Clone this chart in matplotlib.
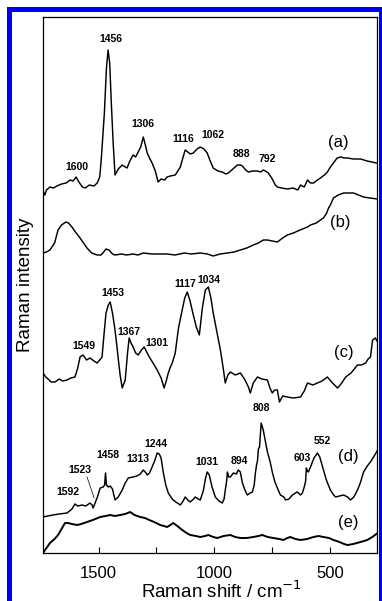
import matplotlib
matplotlib.use("Agg")
import matplotlib.pyplot as plt
from matplotlib.patches import Rectangle

plt.rcParams['font.family'] = ['Liberation Sans', 'DejaVu Sans']

# ---- data (Raman shift in cm-1, intensity in arbitrary stacked units) ----
wa = [1740, 1732, 1725, 1710, 1695, 1680, 1660, 1640, 1623, 1610, 1597, 1585, 1570, 1558, 1540, 1520, 1506, 1495,
      1488, 1475, 1466, 1459, 1452, 1445, 1437, 1429, 1415, 1398, 1385, 1377, 1365, 1351, 1340, 1329, 1318,
      1307, 1298, 1290, 1280, 1269, 1255, 1243, 1230, 1215, 1204, 1190, 1169, 1158, 1147, 1135, 1126,
      1115, 1104, 1091, 1075, 1061, 1045, 1031, 1018, 1005, 985, 966, 950, 940, 920, 901, 888, 879, 865, 853,
      835, 814, 800, 789, 780, 767, 750, 737, 728, 710, 685, 660, 640, 628, 612, 598, 585, 572, 555, 542,
      525, 512, 499, 486, 470, 455, 440, 425, 400, 369, 340, 320, 300]
ia = [362, 358, 363, 366, 365, 367, 369, 370, 373, 372, 376, 371, 366, 365, 368, 367, 370, 376,
      395, 440, 485, 503, 490, 450, 410, 378, 384, 388, 386, 385, 392, 398, 396, 401, 406,
      416, 408, 400, 395, 390, 382, 371, 374, 373, 376, 377, 378, 382, 386, 396, 403,
      401, 399, 400, 404, 406, 404, 400, 392, 385, 382, 381, 379, 380, 384, 388, 388, 387, 383, 381,
      382, 382, 381, 383, 382, 380, 374, 368, 366, 365, 364, 365, 363, 368, 366, 373, 370, 370, 373, 375,
      378, 381, 386, 390, 395, 396, 395, 395, 394, 394, 392, 391, 390]

wb = [1740, 1725, 1710, 1690, 1675, 1660, 1641, 1630, 1615, 1600, 1580, 1565, 1550, 1530, 1506, 1490,
      1478, 1468, 1455, 1440, 1429, 1400, 1380, 1351, 1330, 1307, 1270, 1240, 1204, 1170, 1130, 1100,
      1061, 1030, 1005, 975, 944, 915, 888, 860, 832, 810, 789, 771, 750, 728, 705, 685, 659, 630, 598,
      585, 560, 542, 529, 515, 507, 499, 486, 465, 442, 420, 399, 378, 356, 330, 295]
ib = [300, 301, 303, 310, 323, 328, 331, 330, 326, 321, 315, 310, 305, 300, 298, 298,
      301, 304, 303, 299, 298, 299, 298, 299, 298, 300, 299, 299, 299, 298, 300, 299,
      300, 299, 297, 299, 300, 301, 303, 305, 308, 310, 313, 313, 312, 311, 315, 318, 320, 323, 326,
      328, 330, 333, 335, 340, 345, 348, 355, 358, 360, 360, 360, 358, 356, 355, 354]

wc = [1740, 1728, 1718, 1705, 1688, 1670, 1655, 1636, 1620, 1602, 1590, 1580, 1567, 1552, 1537, 1520,
      1506, 1495, 1485, 1476, 1468, 1458, 1450, 1440, 1429, 1420, 1416, 1407, 1398, 1390, 1385, 1375,
      1368, 1360, 1351, 1340, 1329, 1315, 1303, 1290, 1281, 1265, 1247, 1230, 1217, 1208, 1199, 1190,
      1182, 1169, 1155, 1139, 1128, 1117, 1105, 1091, 1078, 1065, 1052, 1039, 1026, 1015, 1005, 990,
      974, 962, 953, 942, 931, 910, 888, 870, 853, 845, 832, 814, 795, 771, 760, 750, 740, 728, 719, 705,
      685, 660, 628, 612, 598, 575, 555, 535, 512, 490, 468, 450, 433, 410, 382, 365, 347, 336, 326, 317,
      305, 295]
ic = [180, 176, 174, 171, 171, 174, 172, 173, 175, 176, 185, 196, 198, 193, 195, 192,
      190, 193, 196, 220, 240, 248, 251, 240, 223, 205, 196, 178, 165, 170, 173, 200,
      215, 210, 206, 200, 198, 203, 206, 200, 196, 190, 183, 175, 165, 172, 180, 186,
      190, 200, 225, 243, 255, 261, 252, 238, 226, 218, 245, 263, 266, 255, 240, 222,
      203, 185, 170, 178, 181, 178, 180, 174, 166, 160, 170, 176, 174, 173, 165, 160, 163, 163, 151, 157,
      156, 155, 156, 162, 170, 168, 170, 172, 176, 170, 165, 170, 176, 180, 188, 188, 190, 194, 196, 213,
      215, 211]

wd = [1740, 1720, 1697, 1670, 1636, 1615, 1602, 1590, 1571, 1555, 1537, 1528, 1524, 1515, 1505, 1493,
      1480, 1474, 1470, 1466, 1458, 1450, 1440, 1429, 1415, 1398, 1385, 1372, 1351, 1335, 1320, 1307,
      1295, 1290, 1280, 1269, 1258, 1247, 1238, 1230, 1221, 1210, 1199, 1185, 1178, 1160, 1147, 1135,
      1126, 1115, 1104, 1090, 1083, 1070, 1061, 1048, 1038, 1031, 1022, 1010, 996, 980, 966, 958, 953,
      947, 944, 938, 931, 918, 905, 897, 888, 879, 868, 858, 845, 836, 828, 823, 818, 814, 810, 805,
      798, 789, 780, 771, 760, 750, 740, 728, 715, 700, 693, 678, 663, 650, 642, 628, 620, 612, 606, 603,
      598, 594, 585, 570, 555, 545, 529, 515, 499, 485, 477, 460, 442, 425, 412, 398, 382, 370, 356,
      340, 326, 310, 295]
id_ = [36, 37, 38, 39, 40, 44, 49, 47, 48, 47, 50, 48, 45, 50, 56, 65,
       66, 68, 80, 68, 66, 67, 64, 53, 56, 63, 70, 75, 76, 77, 79, 83,
       80, 78, 80, 86, 92, 100, 99, 95, 81, 68, 60, 55, 53, 50, 48, 52,
       56, 53, 51, 54, 56, 54, 53, 62, 75, 81, 78, 66, 56, 52, 50, 54, 63,
       72, 81, 76, 76, 80, 79, 83, 81, 70, 63, 58, 60, 61, 68, 80, 88, 92, 104, 106,
       130, 123, 112, 101, 92, 81, 72, 65, 58, 56, 53, 54, 58, 60, 61, 58, 60, 66, 72, 85,
       82, 81, 86, 95, 100, 96, 83, 72, 63, 58, 56, 57, 58, 56, 53, 56, 63, 70, 81,
       87, 91, 97, 103]

we = [1740, 1725, 1710, 1690, 1675, 1660, 1645, 1632, 1615, 1593, 1575, 1550, 1525, 1493, 1470, 1450,
      1430, 1407, 1385, 1364, 1345, 1320, 1300, 1281, 1260, 1234, 1218, 1204, 1190, 1178, 1160, 1139,
      1120, 1104, 1080, 1061, 1040, 1026, 1005, 987, 960, 931, 910, 888, 860, 832, 810, 793, 770, 745,
      720, 702, 685, 672, 650, 628, 600, 572, 550, 529, 505, 486, 460, 440, 425, 400, 369, 340, 318, 295]
ie = [0, 5, 10, 14, 18, 24, 30, 30, 29, 28, 29, 31, 33, 36, 37, 38,
      37, 38, 39, 41, 38, 36, 35, 33, 31, 28, 27, 26, 28, 30, 27, 23,
      20, 18, 17, 16, 17, 18, 16, 15, 17, 18, 16, 15, 15, 16, 17, 18, 16, 15,
      14, 13, 15, 16, 14, 13, 14, 16, 17, 16, 15, 13, 11, 9, 8, 9, 11, 13, 16, 20]

series = [(wa, ia), (wb, ib), (wc, ic), (wd, id_), (we, ie)]
curve_names = ['(a)', '(b)', '(c)', '(d)', '(e)']
curve_name_pos = [(464, 410), (455, 330), (442, 201), (421, 97), (421, 31)]

peak_labels = ['1600', '1456', '1306', '1116', '1062', '888', '792',
               '1549', '1453', '1367', '1301', '1117', '1034',
               '808', '1244', '1458', '1313', '1031', '894', '603', '552', '1523', '1592']
peak_label_pos = [(1593, 386), (1446, 514), (1307, 429), (1134, 414), (1005, 418), (884, 399), (771, 394),
                  (1563, 207), (1437, 260), (1368, 221), (1247, 210), (1126, 269), (1022, 273),
                  (797, 145), (1251, 109), (1459, 98), (1329, 94), (1031, 91), (892, 92), (620, 95),
                  (533, 112), (1580, 83), (1632, 61)]
leader_x = [1550, 1519]
leader_y = [76, 55]

xticks_major = [1500, 1000, 500]
xticks_minor = [1250, 750]

# ---- figure ----
W, H = 382, 601
fig = plt.figure(figsize=(W / 100, H / 100), dpi=100)
fig.patch.set_facecolor('white')

# blue frame
blue = '#0000f0'
fig.patches.append(Rectangle((7 / W, 0), 5 / W, (H - 7) / H, transform=fig.transFigure,
                             facecolor=blue, edgecolor='none'))
fig.patches.append(Rectangle((7 / W, (H - 12) / H), (W - 7) / W, 5 / H, transform=fig.transFigure,
                             facecolor=blue, edgecolor='none'))
fig.patches.append(Rectangle((379 / W, 0), 3 / W, (H - 7) / H, transform=fig.transFigure,
                             facecolor=blue, edgecolor='none'))

ax = fig.add_axes([43 / W, 48 / H, (376.5 - 43) / W, (553 - 17) / H])
for (w, i), lw in zip(series, [1.05, 1.05, 1.05, 1.05, 1.4]):
    ax.plot(w, i, color='black', lw=lw)

for name, (x, y) in zip(curve_names, curve_name_pos):
    ax.text(x, y, name, fontsize=12, ha='center', va='center')
for lab, (x, y) in zip(peak_labels, peak_label_pos):
    ax.text(x, y, lab, fontsize=7.5, fontweight='bold', ha='center', va='center')
ax.plot(leader_x, leader_y, color='black', lw=0.5)

ax.set_xlim(1740, 300)
ax.set_ylim(0, 536)
ax.set_xticks(xticks_major)
ax.set_xticks(xticks_minor, minor=True)
ax.set_xticklabels([str(t) for t in xticks_major], fontsize=12)
ax.tick_params(axis='x', which='both', direction='in', length=4, width=0.8, pad=9)
ax.set_yticks([])
for s in ax.spines.values():
    s.set_linewidth(0.9)
ax.set_xlabel('Raman shift / cm$^{-1}$', fontsize=13.5)
ax.xaxis.set_label_coords(0.535, -0.052)
ax.set_ylabel('Raman intensity', fontsize=13.5)
ax.yaxis.set_label_coords(-0.027, 0.5)

fig.savefig('out.png', dpi=100)
